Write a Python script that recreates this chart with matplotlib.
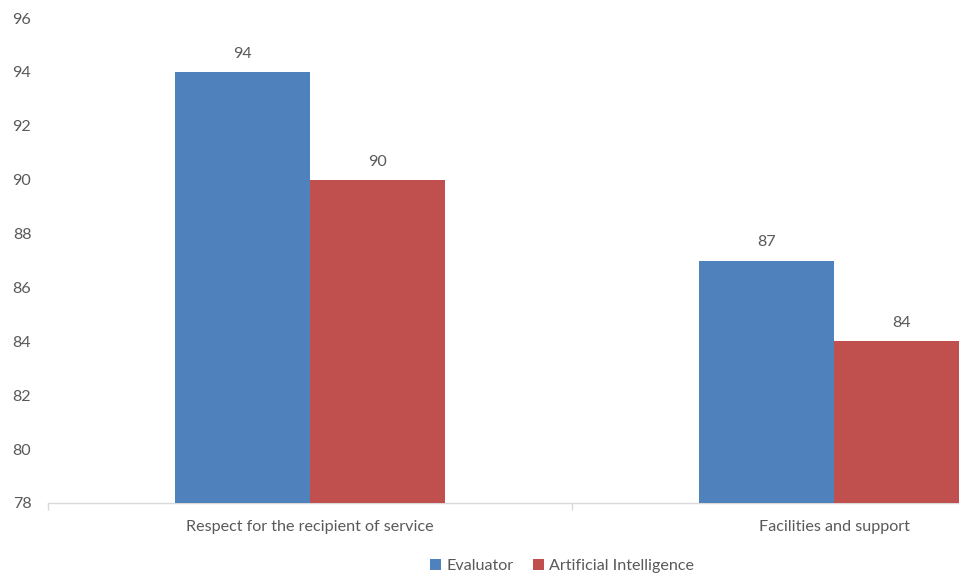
import matplotlib.pyplot as plt
import numpy as np

categories = ["Respect for the recipient of service", "Facilities and support"]
series_names = ["Evaluator", "Artificial Intelligence"]
evaluator = [94, 87]
ai = [90, 84]
y_ticks = [78, 80, 82, 84, 86, 88, 90, 92, 94, 96]

colors = ["#4F81BD", "#C0504D"]
text_color = "#595959"
fs = 11.6

plt.rcParams['font.family'] = ['Lato', 'DejaVu Sans']

fig = plt.figure(figsize=(9.59, 5.73), dpi=100)
ax = fig.add_axes([48 / 959, 70 / 573, 911 / 959, 485 / 573])

x = np.arange(len(categories))
w = 0.258
bars1 = ax.bar(x - w / 2, evaluator, w, color=colors[0], label=series_names[0], zorder=3)
bars2 = ax.bar(x + w / 2, ai, w, color=colors[1], label=series_names[1], zorder=3)

for bars, vals in ((bars1, evaluator), (bars2, ai)):
    for b, v in zip(bars, vals):
        ax.annotate(str(v), (b.get_x() + b.get_width() / 2, v), xytext=(0, 8),
                    textcoords="offset points", ha="center", va="bottom",
                    fontsize=fs, color=text_color)

for s in ("top", "right", "left"):
    ax.spines[s].set_visible(False)
ax.spines["bottom"].set_color("#D9D9D9")
ax.spines["bottom"].set_linewidth(1.0)

ax.set_yticks(y_ticks)
ax.tick_params(axis="y", length=0, pad=12, labelsize=fs, labelcolor=text_color)
ax.set_xticks(x)
ax.set_xticklabels(categories)
ax.tick_params(axis="x", length=0, pad=12, labelsize=fs, labelcolor=text_color)
ax.set_xticks([-0.5, 0.5, 1.5], minor=True)
ax.tick_params(axis="x", which="minor", length=5, color="#D9D9D9", width=1.0)

ax.set_ylim(78, 96)
ax.set_xlim(-0.5, 1.2386)

leg = fig.legend(handles=[bars1, bars2], labels=series_names, loc="center",
                 bbox_to_anchor=(562 / 959, 1 - 566 / 573), ncol=2, frameon=False,
                 fontsize=fs, handlelength=0.7, handleheight=0.7, handletextpad=0.3,
                 columnspacing=1.2)
for t in leg.get_texts():
    t.set_color(text_color)

fig.savefig("out.png", dpi=100)
